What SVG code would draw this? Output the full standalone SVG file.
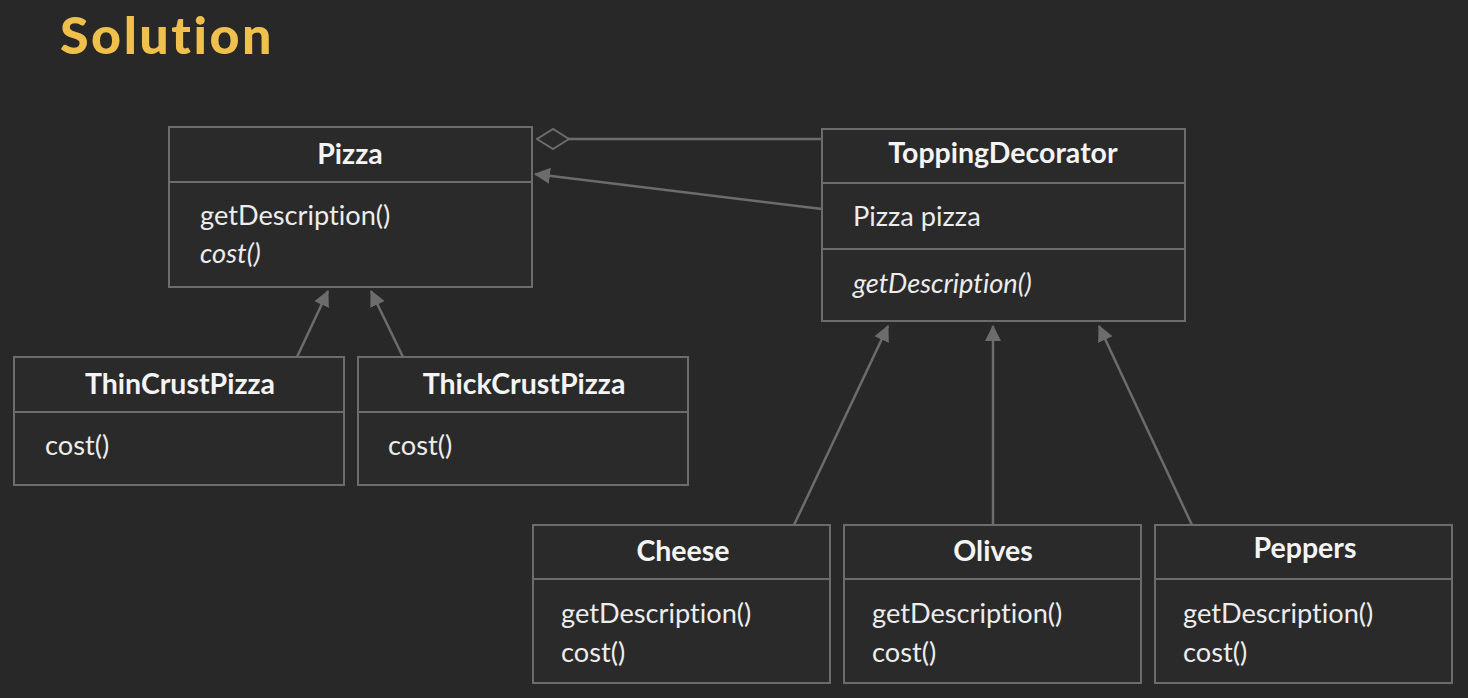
<svg xmlns="http://www.w3.org/2000/svg" width="1468" height="698" viewBox="0 0 1468 698">
  <defs>
    <style>
      text { font-variant-ligatures: none; font-feature-settings: "liga" 0; }
      .box { fill: #2a2a2a; stroke: #6c6c6c; stroke-width: 2; }
      .sep { stroke: #6c6c6c; stroke-width: 2; }
      .name { font-family: Lato, "Open Sans", sans-serif; font-weight: 700; font-size: 28.5px; fill: #f4f4f4; text-anchor: middle; }
      .member { font-family: Lato, "Open Sans", sans-serif; font-weight: 400; font-size: 27.2px; fill: #ececec; }
      .abstract { font-style: italic; }
      .link { stroke: #6c6c6c; stroke-width: 2.5; fill: none; }
      .title { font-family: Lato, "Open Sans", sans-serif; font-weight: 900; font-size: 52px; letter-spacing: 2.5px; fill: #efc04b; }
    </style>
    <marker id="inherit" viewBox="0 0 16 16" refX="15" refY="8" markerWidth="16" markerHeight="16" markerUnits="userSpaceOnUse" orient="auto">
      <path d="M0,0 L16,8 L0,16 Z" fill="#6c6c6c"/>
    </marker>
    <marker id="aggregate" viewBox="0 0 34 22" refX="33" refY="11" markerWidth="34" markerHeight="22" markerUnits="userSpaceOnUse" orient="auto">
      <path d="M1,11 L17,1 L33,11 L17,21 Z" fill="#2a2a2a" stroke="#6c6c6c" stroke-width="2"/>
    </marker>
  </defs>

  <rect x="0" y="0" width="1468" height="698" fill="#282828"/>

  <text class="title" x="60" y="54">Solution</text>

  <!-- connectors -->
  <g id="connectors">
    <line class="link" x1="822" y1="139" x2="537" y2="139" marker-end="url(#aggregate)"/>
    <line class="link" x1="822" y1="209" x2="535" y2="174" marker-end="url(#inherit)"/>
    <line class="link" x1="297" y1="357" x2="328" y2="291" marker-end="url(#inherit)"/>
    <line class="link" x1="403" y1="357" x2="371" y2="291" marker-end="url(#inherit)"/>
    <line class="link" x1="794" y1="525" x2="888" y2="326" marker-end="url(#inherit)"/>
    <line class="link" x1="993" y1="525" x2="993" y2="326" marker-end="url(#inherit)"/>
    <line class="link" x1="1192" y1="525" x2="1099" y2="326" marker-end="url(#inherit)"/>
  </g>

  <g id="pizza">
    <rect class="box" x="169" y="127" width="363" height="160"/>
    <line class="sep" x1="169" y1="182" x2="532" y2="182"/>
    <text class="name" x="350" y="164">Pizza</text>
    <text class="member" x="200" y="225">getDescription()</text>
    <text class="member abstract" x="200" y="263">cost()</text>
  </g>

  <g id="topping-decorator">
    <rect class="box" x="822" y="129" width="363" height="192"/>
    <line class="sep" x1="822" y1="183" x2="1185" y2="183"/>
    <line class="sep" x1="822" y1="249" x2="1185" y2="249"/>
    <text class="name" x="1003" y="163">ToppingDecorator</text>
    <text class="member" x="853" y="226">Pizza pizza</text>
    <text class="member abstract" x="853" y="293">getDescription()</text>
  </g>

  <g id="thin-crust-pizza">
    <rect class="box" x="14" y="357" width="330" height="128"/>
    <line class="sep" x1="14" y1="412" x2="344" y2="412"/>
    <text class="name" x="180" y="394">ThinCrustPizza</text>
    <text class="member" x="45" y="455">cost()</text>
  </g>

  <g id="thick-crust-pizza">
    <rect class="box" x="358" y="357" width="330" height="128"/>
    <line class="sep" x1="358" y1="412" x2="688" y2="412"/>
    <text class="name" x="524" y="394">ThickCrustPizza</text>
    <text class="member" x="388" y="455">cost()</text>
  </g>

  <g id="cheese">
    <rect class="box" x="533" y="525" width="297" height="158"/>
    <line class="sep" x1="533" y1="579" x2="830" y2="579"/>
    <text class="name" x="683" y="561">Cheese</text>
    <text class="member" x="561" y="623">getDescription()</text>
    <text class="member" x="561" y="662">cost()</text>
  </g>

  <g id="olives">
    <rect class="box" x="844" y="525" width="297" height="158"/>
    <line class="sep" x1="844" y1="579" x2="1141" y2="579"/>
    <text class="name" x="993" y="561">Olives</text>
    <text class="member" x="872" y="623">getDescription()</text>
    <text class="member" x="872" y="662">cost()</text>
  </g>

  <g id="peppers">
    <rect class="box" x="1155" y="525" width="297" height="158"/>
    <line class="sep" x1="1155" y1="579" x2="1452" y2="579"/>
    <text class="name" x="1305" y="558">Peppers</text>
    <text class="member" x="1183" y="623">getDescription()</text>
    <text class="member" x="1183" y="662">cost()</text>
  </g>
</svg>
